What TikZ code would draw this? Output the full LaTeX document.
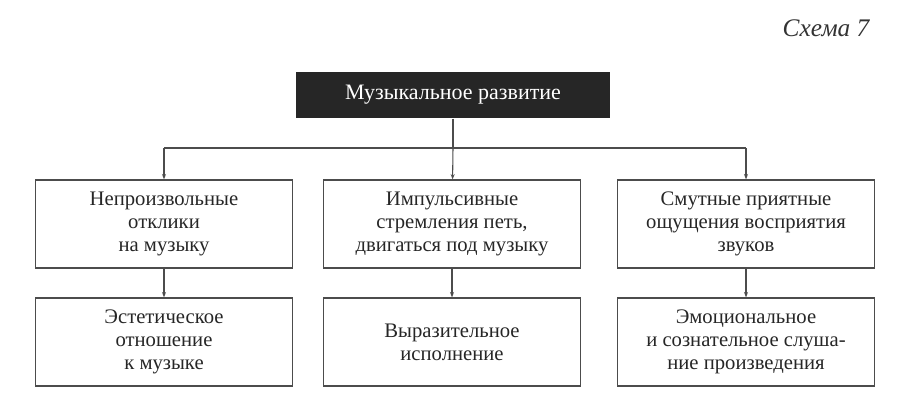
\documentclass[tikz,border=0pt]{standalone}
\usepackage{fontspec}
\setmainfont{Liberation Serif}
\usetikzlibrary{positioning}
\usetikzlibrary{arrows.meta}
\begin{document}
\begin{tikzpicture}[x=0.75pt,y=-0.75pt]
    \tikzset{
        boxnode/.style={draw=black!70, line width=0.9pt, minimum width=193pt, minimum height=66pt, align=center, font=\fontsize{15.5}{17}\selectfont, text=black!85},
        link/.style={-{Stealth[length=4pt]}, draw=black!70, line width=0.8pt}
    }
    \useasboundingbox (0,0) rectangle (912,408);
    % title and header
    \node[font=\fontsize{19}{20}\selectfont\itshape, text=black!80] (scheme) at (826,28) {Схема 7};
    \node[fill=black!85, text=white, minimum width=235pt, minimum height=35pt, font=\fontsize{16.5}{18}\selectfont] (music) at (453,95) {Музыкальное развитие};
    % first row
    \node[boxnode] (invol) at (164,224) {Непроизвольные\\отклики\\на музыку};
    \node[boxnode] (impuls) at (452,224) {Импульсивные\\стремления петь,\\двигаться под музыку};
    \node[boxnode] (vague) at (746,224) {Смутные приятные\\ощущения восприятия\\звуков};
    % second row
    \node[boxnode] (aesth) at (164,342) {Эстетическое\\отношение\\к музыке};
    \node[boxnode] (perform) at (452,342) {Выразительное\\исполнение};
    \node[boxnode] (listen) at (746,342) {Эмоциональное\\и сознательное слуша-\\ние произведения};
    % connectors
    \coordinate (fork) at (453,148);
    \draw[line width=0.8pt, draw=black!70] (music) -- (fork);
    \draw[line width=0.8pt, draw=black!70] (invol.north |- fork) -- (vague.north |- fork);
    \draw[link] (fork) -- (impuls);
    \draw[link] (invol.north |- fork) -- (invol);
    \draw[link] (vague.north |- fork) -- (vague);
    \draw[link] (invol) -- (aesth);
    \draw[link] (impuls) -- (perform);
    \draw[link] (vague) -- (listen);
\end{tikzpicture}
\end{document}
